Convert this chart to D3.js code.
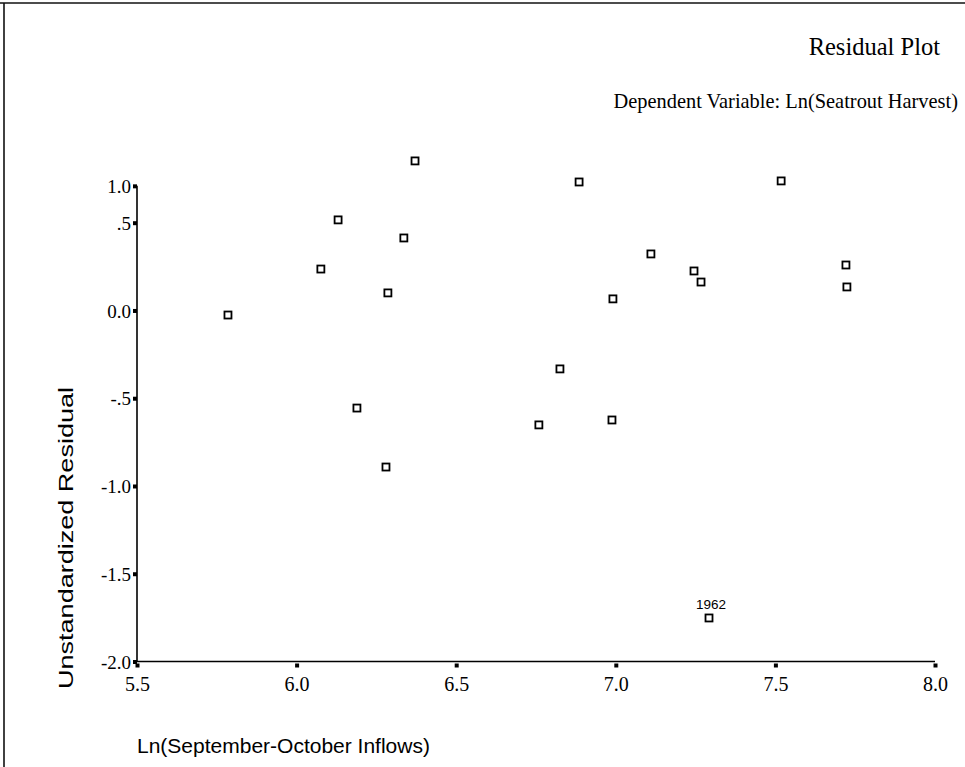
<!DOCTYPE html>
<html>
<head>
<meta charset="utf-8">
<script src="https://cdn.jsdelivr.net/npm/d3@7"></script>
<style>
  html, body { margin: 0; padding: 0; background: #fff; }
  svg { display: block; }
</style>
</head>
<body>
<svg id="chart" width="965" height="767"></svg>
<script>
// ---- data ----
const inflowLn = [5.785, 6.076, 6.130, 6.189, 6.286, 6.280, 6.336, 6.371, 6.885, 6.825,
                  6.759, 6.991, 6.988, 7.110, 7.245, 7.267, 7.518, 7.721, 7.724, 7.292];
const residual = [-0.026, 0.236, 0.516, -0.556, 0.100, -0.892, 0.413, 0.852, 0.732, -0.333,
                  -0.652, 0.066, -0.624, 0.322, 0.225, 0.162, 0.738, 0.259, 0.134, -1.752];
const pointLabels = ["", "", "", "", "", "", "", "", "", "",
                     "", "", "", "", "", "", "", "", "", "1962"];
const xTicks = [5.5, 6.0, 6.5, 7.0, 7.5, 8.0];
const xTickLabels = ["5.5", "6.0", "6.5", "7.0", "7.5", "8.0"];
const yTicks = [-2.0, -1.5, -1.0, -0.5, 0.0, 0.5];
const yTickLabels = ["-2.0", "-1.5", "-1.0", "-.5", "0.0", ".5", "1.0"];
const yAxisTop = 0.71; // where the printed y axis line stops (labelled "1.0" in the original)

const svg = d3.select("#chart");
const serif = "'Liberation Serif', 'Times New Roman', serif";
const sans = "'Liberation Sans', Arial, sans-serif";

// frame (top and left edge of the printed box)
svg.append("line").attr("x1", 0).attr("x2", 965).attr("y1", 3).attr("y2", 3)
  .attr("stroke", "#111").attr("stroke-width", 1.6);
svg.append("line").attr("x1", 4).attr("x2", 4).attr("y1", 3).attr("y2", 767)
  .attr("stroke", "#111").attr("stroke-width", 1.6);

const x = d3.scaleLinear().domain([5.5, 8.0]).range([137, 935]);
const y = d3.scaleLinear().domain([-2.0, 0.5]).range([661.5, 222.7]);

// axes lines
svg.append("line").attr("x1", x(5.5)).attr("x2", x(8.0)).attr("y1", y(-2)).attr("y2", y(-2))
  .attr("stroke", "#000").attr("stroke-width", 1.6);
svg.append("line").attr("x1", x(5.5)).attr("x2", x(5.5)).attr("y1", y(-2)).attr("y2", y(yAxisTop))
  .attr("stroke", "#000").attr("stroke-width", 1.6);

// x axis ticks (small square dots) and labels
const xAxis = d3.axisBottom(x).tickValues(xTicks).tickSize(0)
  .tickFormat((d, i) => xTickLabels[i]);
const gx = svg.append("g").attr("transform", `translate(0,${y(-2)})`).call(xAxis);
gx.select(".domain").remove();
gx.selectAll(".tick text").attr("dy", 0).attr("y", 29)
  .attr("font-family", serif).attr("font-size", 20).attr("fill", "#000");
gx.selectAll(".tick").append("rect").attr("x", -2).attr("y", 2).attr("width", 4).attr("height", 4).attr("fill", "#000");

// y axis ticks and labels
const yVals = yTicks.concat([yAxisTop]);
const yAxis = d3.axisLeft(y).tickValues(yVals).tickSize(0)
  .tickFormat((d, i) => yTickLabels[i]);
const gy = svg.append("g").attr("transform", `translate(${x(5.5)},0)`).call(yAxis);
gy.select(".domain").remove();
gy.selectAll(".tick text").attr("x", -6).attr("dy", "0.35em")
  .attr("font-family", serif).attr("font-size", 19).attr("fill", "#000");
gy.selectAll(".tick").append("rect").attr("x", -4).attr("y", -2).attr("width", 4).attr("height", 4).attr("fill", "#000");

// points: hollow squares
const pts = inflowLn.map((v, i) => ({ x: v, y: residual[i], label: pointLabels[i] }));
svg.append("g").selectAll("rect").data(pts).join("rect")
  .attr("x", d => x(d.x) - 3.5).attr("y", d => y(d.y) - 3.5)
  .attr("width", 7).attr("height", 7)
  .attr("fill", "#fff").attr("stroke", "#000").attr("stroke-width", 1.8);

svg.append("g").selectAll("text").data(pts.filter(d => d.label)).join("text")
  .attr("x", d => x(d.x) + 2).attr("y", d => y(d.y) - 9)
  .attr("text-anchor", "middle").attr("font-family", sans).attr("font-size", 13.5)
  .attr("fill", "#000").text(d => d.label);

// titles
svg.append("text").attr("x", 940).attr("y", 55).attr("text-anchor", "end")
  .attr("font-family", serif).attr("font-size", 24.5).attr("fill", "#000").text("Residual Plot");
svg.append("text").attr("x", 958).attr("y", 108).attr("text-anchor", "end")
  .attr("font-family", serif).attr("font-size", 20.4).attr("fill", "#000")
  .text("Dependent Variable: Ln(Seatrout Harvest)");

// axis titles
svg.append("text").attr("transform", "translate(73,538) rotate(-90)")
  .attr("text-anchor", "middle").attr("font-family", sans).attr("font-size", 21)
  .attr("textLength", 302).attr("lengthAdjust", "spacingAndGlyphs")
  .attr("fill", "#000").text("Unstandardized Residual");
svg.append("text").attr("x", 137).attr("y", 753)
  .attr("font-family", sans).attr("font-size", 21)
  .attr("fill", "#000").text("Ln(September-October Inflows)");
</script>
</body>
</html>
